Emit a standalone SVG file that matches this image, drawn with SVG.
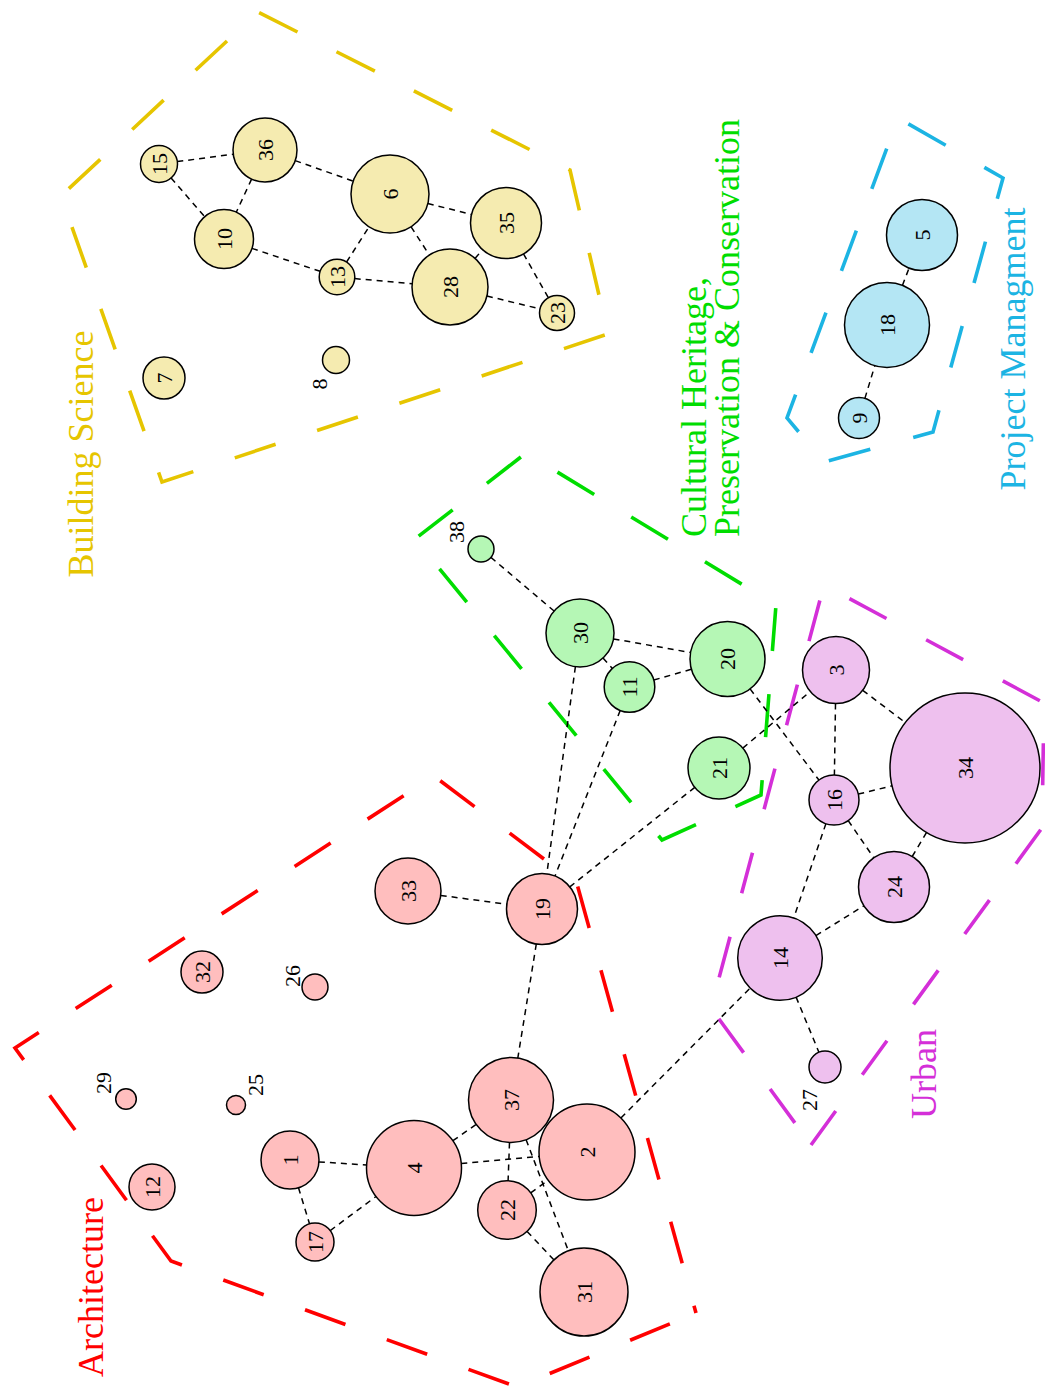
<svg xmlns="http://www.w3.org/2000/svg" width="1045" height="1389" viewBox="0 0 1045 1389">
<style>
.hull{fill:none;stroke-width:3.6}
.e{stroke:#000;stroke-width:1.5;stroke-dasharray:6 5;fill:none}
.n circle{stroke:#000;stroke-width:1.5}
.y circle{fill:#F5EBB0}.r circle{fill:#FFBEBE}.g circle{fill:#B5F7B5}.m circle{fill:#EEC0EE}.b circle{fill:#B4E6F4}
.lab{font-family:"Liberation Serif","Times New Roman",serif;font-size:22px;fill:#000;text-anchor:middle;dominant-baseline:central}
.glab{font-family:"Liberation Serif","Times New Roman",serif;font-size:36px}
</style>
<rect width="1045" height="1389" fill="#fff"/>
<g id="hulls">
<path class="hull" stroke="#E6C500" stroke-dasharray="43 43.7" stroke-dashoffset="10" d="M162,482 L608,334 L570,170 L258,12 L61,196 Z"/>
<path class="hull" stroke="#1CB4E3" stroke-dasharray="43 44.5" stroke-dashoffset="25" d="M787,418 L824,462 L933,432 L1003,178 L898,118 Z"/>
<path class="hull" stroke="#00DD00" stroke-dasharray="43 43.3" stroke-dashoffset="5.7" d="M662,840 L761,795 L776,605 L526,453 L415,539 Z"/>
<path class="hull" stroke="#D42FD8" stroke-dasharray="42 45" stroke-dashoffset="0" d="M811,1145 L1042,828 L1044,703 L824,585 L711,1008 Z"/>
<path class="hull" stroke="#FF0000" stroke-dasharray="43 44" stroke-dashoffset="35.4" d="M696,1313 L577,884 L434,776 L15,1048 L171,1261 L517,1387 Z"/>
</g>
<g id="group-labels">
<text class="glab" fill="#E6C500" text-anchor="middle" transform="translate(93,454) rotate(-90)">Building Science</text>
<text class="glab" fill="#FF0000" text-anchor="middle" transform="translate(103,1287) rotate(-90)">Architecture</text>
<text class="glab" fill="#D42FD8" text-anchor="middle" transform="translate(936,1074) rotate(-90)">Urban</text>
<text class="glab" fill="#1CB4E3" text-anchor="middle" transform="translate(1025,349) rotate(-90)">Project Managment</text>
<text class="glab" fill="#00DD00" text-anchor="start" transform="translate(706,537) rotate(-90)">Cultural Heritage,</text>
<text class="glab" fill="#00DD00" text-anchor="start" transform="translate(739,537) rotate(-90)">Preservation &amp; Conservation</text>
</g>
<g id="connectors">
<line class="e" x1="177.3" y1="161.6" x2="233.3" y2="154.2"/>
<line class="e" x1="171.1" y1="178" x2="204.7" y2="216.7"/>
<line class="e" x1="251.6" y1="179.1" x2="236.3" y2="212.2"/>
<line class="e" x1="295.2" y1="160.6" x2="353.2" y2="181.1"/>
<line class="e" x1="252" y1="248.4" x2="320.1" y2="271.3"/>
<line class="e" x1="346.6" y1="262" x2="369" y2="226.9"/>
<line class="e" x1="354.7" y1="278.6" x2="412.1" y2="283.7"/>
<line class="e" x1="411.1" y1="226.8" x2="429.4" y2="255.1"/>
<line class="e" x1="427.8" y1="203.5" x2="471.6" y2="214.4"/>
<line class="e" x1="475" y1="258.4" x2="482.6" y2="249.7"/>
<line class="e" x1="486.9" y1="296" x2="540" y2="308.9"/>
<line class="e" x1="523.5" y1="253.9" x2="548.4" y2="297.8"/>
<line class="e" x1="902.4" y1="285.4" x2="909.1" y2="268.1"/>
<line class="e" x1="864.9" y1="398.4" x2="874.8" y2="365.7"/>
<line class="e" x1="490.9" y1="557.4" x2="554.1" y2="611"/>
<line class="e" x1="603" y1="658" x2="612.4" y2="668.4"/>
<line class="e" x1="613.5" y1="638.9" x2="690.6" y2="652.5"/>
<line class="e" x1="653.8" y1="680" x2="691.4" y2="669.3"/>
<line class="e" x1="575.4" y1="666.7" x2="546.8" y2="873.8"/>
<line class="e" x1="620.2" y1="710.5" x2="555" y2="876"/>
<line class="e" x1="694.8" y1="787.3" x2="569.8" y2="886.9"/>
<line class="e" x1="750.1" y1="688.9" x2="818.9" y2="780"/>
<line class="e" x1="742.8" y1="748.1" x2="810.3" y2="691.5"/>
<line class="e" x1="440.7" y1="895.4" x2="506.8" y2="904.3"/>
<line class="e" x1="536.3" y1="944" x2="517.8" y2="1058.1"/>
<line class="e" x1="318.9" y1="1161.9" x2="366.6" y2="1165"/>
<line class="e" x1="298.5" y1="1187.7" x2="309.5" y2="1223.8"/>
<line class="e" x1="330.2" y1="1230.6" x2="376" y2="1196.5"/>
<line class="e" x1="452.9" y1="1140.7" x2="476.2" y2="1124.4"/>
<line class="e" x1="461.3" y1="1163.6" x2="539.2" y2="1156.4"/>
<line class="e" x1="509.5" y1="1142.5" x2="508.1" y2="1180.7"/>
<line class="e" x1="526.1" y1="1139.7" x2="568.4" y2="1250.9"/>
<line class="e" x1="530.7" y1="1192.8" x2="548.1" y2="1180.2"/>
<line class="e" x1="527.1" y1="1231.4" x2="553.9" y2="1259.9"/>
<line class="e" x1="620.9" y1="1118" x2="750.2" y2="988"/>
<line class="e" x1="835.5" y1="703.5" x2="834.4" y2="775"/>
<line class="e" x1="862.7" y1="690.3" x2="905.3" y2="722.6"/>
<line class="e" x1="858.3" y1="794.1" x2="892.2" y2="785.8"/>
<line class="e" x1="848.2" y1="820.6" x2="873.8" y2="857.8"/>
<line class="e" x1="825.9" y1="823.7" x2="793.7" y2="918"/>
<line class="e" x1="912.2" y1="856.5" x2="926.6" y2="832.4"/>
<line class="e" x1="815.9" y1="935.6" x2="863.9" y2="905.8"/>
<line class="e" x1="796.1" y1="997.1" x2="818.9" y2="1052.2"/>
</g>
<g id="nodes">
<g id="node-15" class="n y"><circle cx="159" cy="164" r="18.5"/><text class="lab" transform="translate(159,164) rotate(-90)">15</text></g>
<g id="node-36" class="n y"><circle cx="265" cy="150" r="32"/><text class="lab" transform="translate(265,150) rotate(-90)">36</text></g>
<g id="node-10" class="n y"><circle cx="224" cy="239" r="29.5"/><text class="lab" transform="translate(224,239) rotate(-90)">10</text></g>
<g id="node-6" class="n y"><circle cx="390" cy="194" r="39"/><text class="lab" transform="translate(390,194) rotate(-90)">6</text></g>
<g id="node-35" class="n y"><circle cx="506" cy="223" r="35.5"/><text class="lab" transform="translate(506,223) rotate(-90)">35</text></g>
<g id="node-13" class="n y"><circle cx="337" cy="277" r="17.8"/><text class="lab" transform="translate(337,277) rotate(-90)">13</text></g>
<g id="node-28" class="n y"><circle cx="450" cy="287" r="38"/><text class="lab" transform="translate(450,287) rotate(-90)">28</text></g>
<g id="node-23" class="n y"><circle cx="557" cy="313" r="17.5"/><text class="lab" transform="translate(557,313) rotate(-90)">23</text></g>
<g id="node-7" class="n y"><circle cx="164" cy="378" r="21"/><text class="lab" transform="translate(164,378) rotate(-90)">7</text></g>
<g id="node-8" class="n y"><circle cx="336" cy="360" r="13.5"/><text class="lab" transform="translate(319,384) rotate(-90)">8</text></g>
<g id="node-5" class="n b"><circle cx="922" cy="235" r="35.5"/><text class="lab" transform="translate(922,235) rotate(-90)">5</text></g>
<g id="node-18" class="n b"><circle cx="887" cy="325" r="42.5"/><text class="lab" transform="translate(887,325) rotate(-90)">18</text></g>
<g id="node-9" class="n b"><circle cx="859" cy="418" r="20.5"/><text class="lab" transform="translate(859,418) rotate(-90)">9</text></g>
<g id="node-38" class="n g"><circle cx="481" cy="549" r="13"/><text class="lab" transform="translate(456,532) rotate(-90)">38</text></g>
<g id="node-30" class="n g"><circle cx="580" cy="633" r="34"/><text class="lab" transform="translate(580,633) rotate(-90)">30</text></g>
<g id="node-11" class="n g"><circle cx="629.5" cy="687" r="25.3"/><text class="lab" transform="translate(629.5,687) rotate(-90)">11</text></g>
<g id="node-20" class="n g"><circle cx="727.5" cy="659" r="37.5"/><text class="lab" transform="translate(727.5,659) rotate(-90)">20</text></g>
<g id="node-21" class="n g"><circle cx="719" cy="768" r="31"/><text class="lab" transform="translate(719,768) rotate(-90)">21</text></g>
<g id="node-3" class="n m"><circle cx="836" cy="670" r="33.5"/><text class="lab" transform="translate(836,670) rotate(-90)">3</text></g>
<g id="node-34" class="n m"><circle cx="965" cy="768" r="75"/><text class="lab" transform="translate(965,768) rotate(-90)">34</text></g>
<g id="node-16" class="n m"><circle cx="834" cy="800" r="25"/><text class="lab" transform="translate(834,800) rotate(-90)">16</text></g>
<g id="node-24" class="n m"><circle cx="894" cy="887" r="35.5"/><text class="lab" transform="translate(894,887) rotate(-90)">24</text></g>
<g id="node-14" class="n m"><circle cx="780" cy="958" r="42.3"/><text class="lab" transform="translate(780,958) rotate(-90)">14</text></g>
<g id="node-27" class="n m"><circle cx="825" cy="1067" r="16"/><text class="lab" transform="translate(809,1100) rotate(-90)">27</text></g>
<g id="node-33" class="n r"><circle cx="408" cy="891" r="33"/><text class="lab" transform="translate(408,891) rotate(-90)">33</text></g>
<g id="node-19" class="n r"><circle cx="542" cy="909" r="35.5"/><text class="lab" transform="translate(542,909) rotate(-90)">19</text></g>
<g id="node-32" class="n r"><circle cx="202" cy="972" r="21"/><text class="lab" transform="translate(202,972) rotate(-90)">32</text></g>
<g id="node-26" class="n r"><circle cx="315" cy="987" r="13"/><text class="lab" transform="translate(292,976) rotate(-90)">26</text></g>
<g id="node-29" class="n r"><circle cx="126" cy="1099" r="10.3"/><text class="lab" transform="translate(103,1083) rotate(-90)">29</text></g>
<g id="node-25" class="n r"><circle cx="236" cy="1105" r="9.5"/><text class="lab" transform="translate(255,1085) rotate(-90)">25</text></g>
<g id="node-37" class="n r"><circle cx="511" cy="1100" r="42.5"/><text class="lab" transform="translate(511,1100) rotate(-90)">37</text></g>
<g id="node-2" class="n r"><circle cx="587" cy="1152" r="48"/><text class="lab" transform="translate(587,1152) rotate(-90)">2</text></g>
<g id="node-4" class="n r"><circle cx="414" cy="1168" r="47.5"/><text class="lab" transform="translate(414,1168) rotate(-90)">4</text></g>
<g id="node-1" class="n r"><circle cx="290" cy="1160" r="29"/><text class="lab" transform="translate(290,1160) rotate(-90)">1</text></g>
<g id="node-17" class="n r"><circle cx="315" cy="1242" r="19"/><text class="lab" transform="translate(315,1242) rotate(-90)">17</text></g>
<g id="node-22" class="n r"><circle cx="507" cy="1210" r="29.3"/><text class="lab" transform="translate(507,1210) rotate(-90)">22</text></g>
<g id="node-31" class="n r"><circle cx="584" cy="1292" r="44"/><text class="lab" transform="translate(584,1292) rotate(-90)">31</text></g>
<g id="node-12" class="n r"><circle cx="152" cy="1187" r="23"/><text class="lab" transform="translate(152,1187) rotate(-90)">12</text></g>
</g>
</svg>
